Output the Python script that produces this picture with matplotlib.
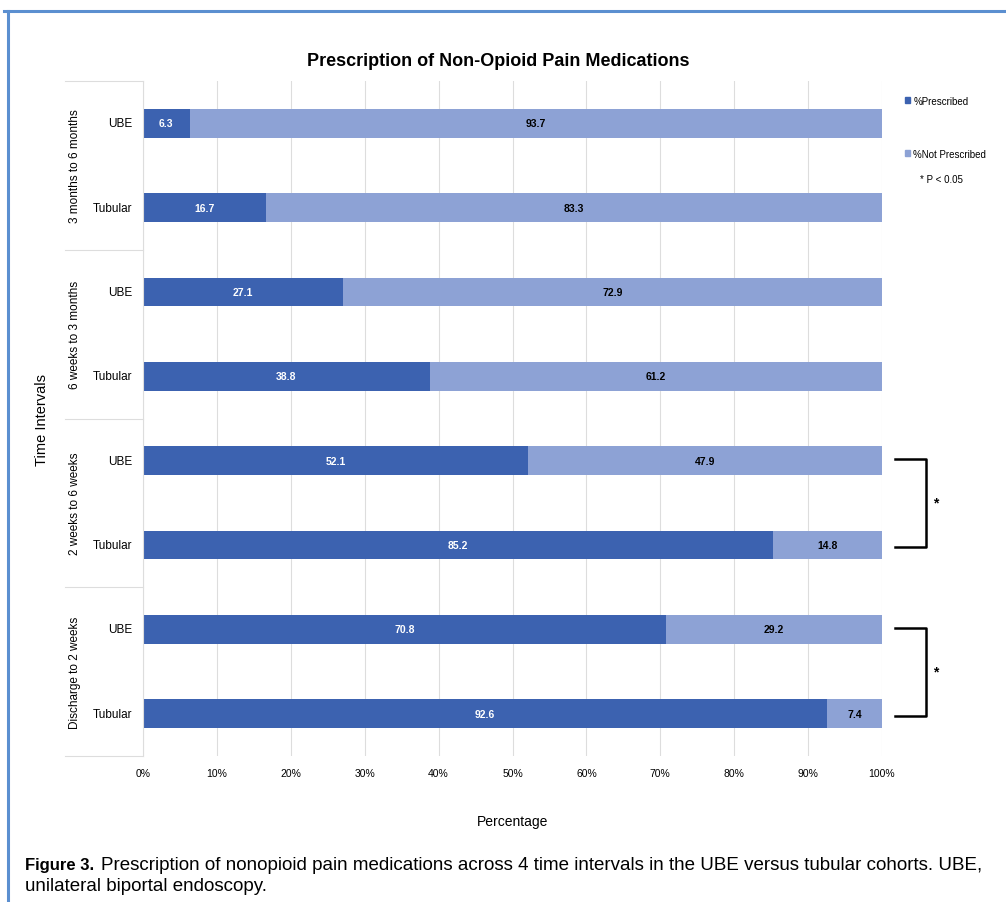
import numpy as np
import matplotlib.pyplot as plt
from matplotlib.patches import Patch
from matplotlib.lines import Line2D

plt.rcParams['font.family'] = ['Liberation Sans', 'DejaVu Sans']

groups = ['3 months to 6 months', '6 weeks to 3 months',
          '2 weeks to 6 weeks', 'Discharge to 2 weeks']
cohorts = ['UBE', 'Tubular']
ube_prescribed = [6.3, 27.1, 52.1, 70.8]
ube_not_prescribed = [93.7, 72.9, 47.9, 29.2]
tub_prescribed = [16.7, 38.8, 85.2, 92.6]
tub_not_prescribed = [83.3, 61.2, 14.8, 7.4]
significant = [False, False, True, True]
xticks = [0, 10, 20, 30, 40, 50, 60, 70, 80, 90, 100]

dark = '#3c62b0'
light = '#8da2d5'
gridc = '#dddddd'

W, H = 1006, 903
fig = plt.figure(figsize=(W / 100, H / 100), dpi=100)
fig.patch.set_facecolor('white')

# plot area in pixel space
x0, x1, ytop, ybot = 143, 882, 82, 757
ax = fig.add_axes([x0 / W, 1 - ybot / H, (x1 - x0) / W, (ybot - ytop) / H])

presc = []
notp = []
for g in range(len(groups)):
    presc += [ube_prescribed[g], tub_prescribed[g]]
    notp += [ube_not_prescribed[g], tub_not_prescribed[g]]
ypos = np.arange(len(presc))

bh = 0.34
ax.barh(ypos, presc, height=bh, color=dark, zorder=2)
ax.barh(ypos, notp, left=presc, height=bh, color=light, zorder=2)

for y, p, n in zip(ypos, presc, notp):
    ax.text(p / 2, y, f'{p}', ha='center', va='center', color='white',
            fontsize=7.5, fontweight='bold', zorder=3)
    ax.text(p + n / 2, y, f'{n}', ha='center', va='center', color='black',
            fontsize=7.5, fontweight='bold', zorder=3)

ax.set_xlim(0, 100)
ax.set_ylim(len(presc) - 0.5, -0.5)
ax.set_xticks(xticks)
ax.set_xticklabels([f'{t}%' for t in xticks], fontsize=7.5)
ax.set_yticks([])
ax.tick_params(axis='x', length=0, pad=9)
ax.grid(axis='x', color=gridc, linewidth=0.8, zorder=0)
for s in ['top', 'right', 'bottom']:
    ax.spines[s].set_visible(False)
ax.spines['left'].set_color(gridc)
ax.spines['left'].set_linewidth(0.8)

# category labels and group separators on the left
ytr = ax.get_yaxis_transform()
sep_left = (65 - x0) / (x1 - x0)
for y, lab in zip(ypos, cohorts * len(groups)):
    ax.text(-0.015, y, lab, transform=ytr, ha='right', va='center',
            fontsize=8.5)
for g, name in enumerate(groups):
    ax.text((75 - x0) / (x1 - x0), 2 * g + 0.5, name, transform=ytr,
            rotation=90, ha='center', va='center', fontsize=8.5)
for b in np.arange(len(groups) + 1) * 2 - 0.5:
    ax.plot([sep_left, 0], [b, b], transform=ytr, color=gridc,
            linewidth=0.8, clip_on=False)

# significance brackets
for g, sig in enumerate(significant):
    if not sig:
        continue
    ya, yb = 2 * g - 0.02, 2 * g + 1.02
    bx = [101.7, 106.0, 106.0, 101.7]
    ax.plot(bx, [ya, ya, yb, yb], color='black', linewidth=1.8,
            clip_on=False, solid_joinstyle='round')
    ax.text(107.3, (ya + yb) / 2, '*', ha='center', va='center',
            fontsize=10, fontweight='bold', clip_on=False)

fig.text(498 / W, 1 - 62 / H, 'Prescription of Non-Opioid Pain Medications',
         ha='center', va='center', fontsize=13, fontweight='bold')
fig.text(42 / W, 1 - 420 / H, 'Time Intervals', rotation=90,
         ha='center', va='center', fontsize=10.5)
fig.text(513 / W, 1 - 822 / H, 'Percentage', ha='center', va='center',
         fontsize=10)

handles = [Patch(color=dark, label='%Prescribed'),
           Patch(color=light, label='%Not Prescribed')]
fig.legend(handles=handles, loc='upper left',
           bbox_to_anchor=(900 / W, 1 - 92 / H), frameon=False,
           fontsize=7, handlelength=0.55, handleheight=0.55,
           handletextpad=0.3, labelspacing=4.4, borderpad=0)
fig.text(920 / W, 1 - 180 / H, '* P < 0.05', ha='left', va='center',
         fontsize=7)

# caption
fig.text(25 / W, 1 - 866 / H, 'Figure 3.', ha='left', va='center',
         fontsize=12, fontweight='bold')
fig.text(101 / W, 1 - 866 / H,
         'Prescription of nonopioid pain medications across 4 time '
         'intervals in the UBE versus tubular cohorts. UBE,',
         ha='left', va='center', fontsize=13.5)
fig.text(25 / W, 1 - 887 / H, 'unilateral biportal endoscopy.',
         ha='left', va='center', fontsize=13.5)

# frame lines along the top and left edge
frame = '#5b8fd0'
fig.add_artist(Line2D([4 / W, 1], [1 - 12 / H, 1 - 12 / H], color=frame,
                      linewidth=2.2, transform=fig.transFigure))
fig.add_artist(Line2D([8 / W, 8 / W], [0, 1 - 12 / H], color=frame,
                      linewidth=2.2, transform=fig.transFigure))

fig.savefig('out.png', dpi=100)
